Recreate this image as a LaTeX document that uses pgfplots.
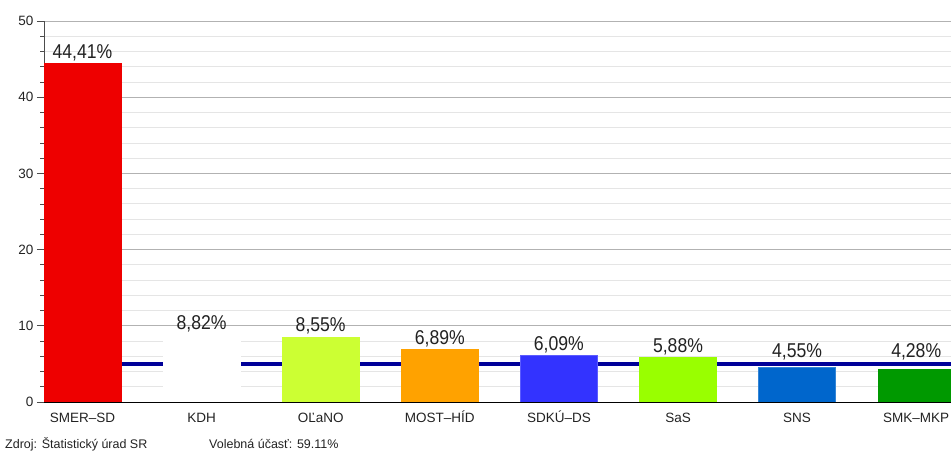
\documentclass[border=0pt]{standalone}
\usepackage{graphicx}
\usepackage{pgfplots}
\pgfplotsset{compat=1.18}
\usepackage{fontspec}
\setmainfont{Liberation Sans}
\definecolor{cSMER}{HTML}{EE0000}
\definecolor{cOLANO}{HTML}{CCFF33}
\definecolor{cMOST}{HTML}{FFA200}
\definecolor{cSDKU}{HTML}{3333FF}
\definecolor{cSAS}{HTML}{99FF00}
\definecolor{cSNS}{HTML}{0066CC}
\definecolor{cSMK}{HTML}{009900}
\definecolor{thr}{HTML}{000099}
\definecolor{txt}{HTML}{222222}
\begin{document}
\begin{tikzpicture}
\begin{axis}[name=ax,
  /pgf/number format/assume math mode=true,
  scale only axis, width=907pt, height=381pt,
  xmin=-0.323, xmax=7.292, ymin=0, ymax=50,
  axis x line*=bottom, axis y line*=left,
  x axis line style={-, line width=0.8pt, black},
  y axis line style={-, line width=0.8pt, black!70},
  xtick={0,1,2,3,4,5,6,7},
  xticklabels={SMER–SD,KDH,OĽaNO,MOST–HÍD,SDKÚ–DS,SaS,SNS,SMK–MKP},
  x tick style={draw=none},
  ytick={0,10,20,30,40,50},
  minor y tick num=4,
  tick align=outside,
  major tick length=7pt, minor tick length=4pt,
  y tick style={black!70, line width=0.7pt},
  ymajorgrids, yminorgrids,
  major grid style={black!30, line width=0.8pt},
  minor grid style={black!10, line width=0.8pt},
  xticklabel style={font=\fontsize{13.5}{13.5}\selectfont, text=txt, text height=10pt, text depth=0pt, yshift=0pt},
  yticklabel style={font=\fontsize{13.5}{13.5}\selectfont, text=txt},
  ybar, bar width=77pt, bar shift=0pt,
  nodes near coords={\scalebox{0.88}[1]{\pgfmathprintnumber[use comma, fixed, precision=2, fixed zerofill]{\pgfplotspointmeta}\%}},
  nodes near coords style={font=\fontsize{20}{20}\selectfont, text=txt, yshift=-1pt},
  clip=true,
]
\addplot[sharp plot, no marks, thr, line width=3.5pt, nodes near coords={}, forget plot] coordinates {(-0.5,5) (7.5,5)};
\addplot[fill=cSMER, draw=cSMER] coordinates {(0,44.41)};
\addplot[fill=white, draw=white] coordinates {(1,8.82)};
\addplot[fill=cOLANO, draw=cOLANO] coordinates {(2,8.55)};
\addplot[fill=cMOST, draw=cMOST] coordinates {(3,6.89)};
\addplot[fill=cSDKU, draw=cSDKU!80!white] coordinates {(4,6.09)};
\addplot[fill=cSAS, draw=cSAS] coordinates {(5,5.88)};
\addplot[fill=cSNS, draw=cSNS!80!white, nodes near coords style={yshift=5pt}] coordinates {(6,4.55)};
\addplot[fill=cSMK, draw=cSMK, nodes near coords style={yshift=7pt}] coordinates {(7,4.28)};
\end{axis}
\node[anchor=base west, font=\fontsize{12.5}{12.5}\selectfont, text=txt, inner sep=0pt] at ([xshift=-39pt,yshift=-47pt]ax.south west) {Zdroj: Štatistický úrad SR};
\node[anchor=base west, font=\fontsize{12.5}{12.5}\selectfont, text=txt, inner sep=0pt] at ([xshift=165pt,yshift=-47pt]ax.south west) {Volebná účasť: 59.11\%};
\pgfresetboundingbox
\path ([xshift=-44pt,yshift=-55pt]ax.south west) rectangle ([yshift=21pt]ax.north east);
\end{tikzpicture}
\end{document}
